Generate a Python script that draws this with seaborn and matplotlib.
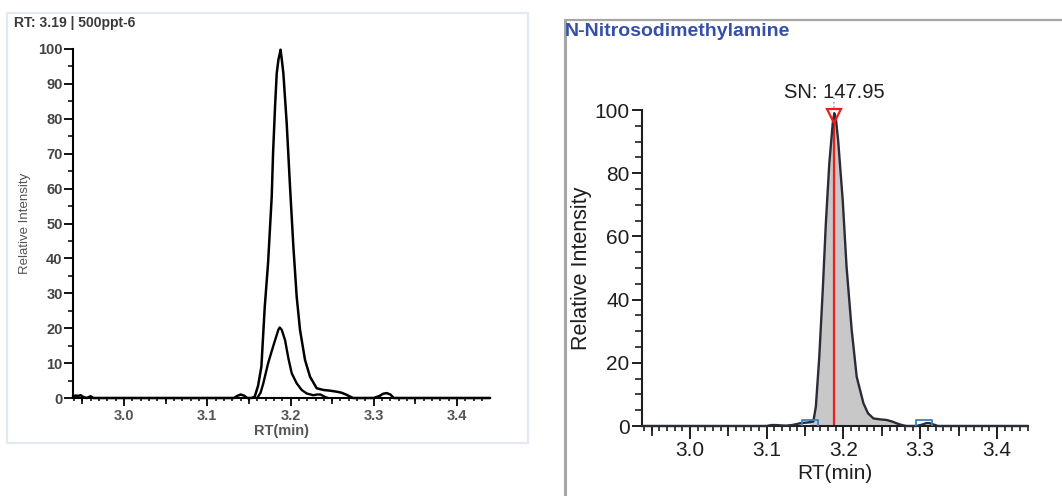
import numpy as np
import pandas as pd
import seaborn as sns
import matplotlib
matplotlib.use("Agg")
import matplotlib.pyplot as plt
from matplotlib.ticker import MultipleLocator, NullFormatter
from matplotlib.path import Path
from matplotlib.patches import Rectangle
from matplotlib.lines import Line2D

# ---------------- data ----------------
left_title = "RT: 3.19 | 500ppt-6"
right_title = "N-Nitrosodimethylamine"
sn_label = "SN: 147.95"
x_label = "RT(min)"
y_label = "Relative Intensity"

# left panel: outer (quantifier) trace
left_rt = [2.9387, 2.942, 2.945, 2.948, 2.951, 2.955, 2.960, 2.963, 2.967, 3.000,
           3.050, 3.100, 3.132, 3.136, 3.140, 3.144, 3.148, 3.153, 3.157, 3.161,
           3.165, 3.169, 3.173, 3.1774, 3.179, 3.1814, 3.1834, 3.1855, 3.1874, 3.188,
           3.1895, 3.1914, 3.1954, 3.1994, 3.2034, 3.2074, 3.2114, 3.2174, 3.2234, 3.2314,
           3.2394, 3.2475, 3.2555, 3.2615, 3.2675, 3.2715, 3.275, 3.300, 3.307, 3.311,
           3.3155, 3.320, 3.324, 3.350, 3.4396]
left_int = [0.5, 0.7, 0.6, 0.8, 0.3, 0.0, 0.5, 0.0, 0.0, 0.0,
            0.0, 0.0, 0.0, 0.6, 1.0, 0.7, 0.0, 0.0, 0.4, 3.5,
            9.0, 26.0, 38.6, 57.7, 70.0, 83.5, 93.0, 97.0, 99.0, 99.8,
            97.0, 93.0, 78.7, 60.5, 43.4, 29.0, 19.5, 10.9, 6.1, 2.8,
            2.3, 2.1, 1.8, 1.5, 0.9, 0.4, 0.0, 0.0, 0.6, 1.2,
            1.4, 1.0, 0.0, 0.0, 0.0]

# left panel: inner (qualifier) trace
qual_rt = [3.160, 3.164, 3.1673, 3.173, 3.179, 3.1853, 3.187, 3.1895, 3.1934, 3.1974,
           3.2014, 3.2074, 3.2134, 3.2194, 3.2274, 3.232, 3.236, 3.2414, 3.245]
qual_int = [0.0, 1.5, 4.2, 9.9, 14.7, 19.5, 20.2, 19.5, 16.6, 11.4,
            7.1, 4.2, 2.3, 1.3, 0.8, 1.0, 1.0, 0.3, 0.0]

# right panel: integrated trace
right_rt = [2.9375, 3.000, 3.100, 3.106, 3.112, 3.118, 3.125, 3.133, 3.139, 3.1433,
            3.148, 3.153, 3.1607, 3.164, 3.1685, 3.173, 3.177, 3.1815, 3.186, 3.188,
            3.190, 3.193, 3.199, 3.204, 3.2107, 3.2172, 3.226, 3.232, 3.239, 3.2475,
            3.2563, 3.2635, 3.2693, 3.276, 3.282, 3.295, 3.302, 3.308, 3.312, 3.317,
            3.323, 3.350, 3.4404]
right_int = [0.0, 0.0, 0.0, 0.3, 0.3, 0.2, 0.1, 0.3, 0.6, 0.85,
             1.0, 1.1, 1.4, 6.1, 22.0, 43.0, 64.0, 83.0, 95.8, 99.0,
             97.5, 90.5, 71.5, 50.4, 30.4, 15.6, 7.2, 4.0, 2.4, 2.1,
             1.9, 1.4, 0.85, 0.3, 0.0, 0.0, 0.4, 0.9, 0.9, 0.5,
             0.0, 0.0, 0.0]

apex_rt = 3.188
apex_int = 98.0
window_rt = [3.156, 3.305]
window_int = [0.9, 0.9]

x_ticks = [3.0, 3.1, 3.2, 3.3, 3.4]
x_mid_ticks = [2.95, 3.05, 3.15, 3.25, 3.35]
left_yticks = [0, 10, 20, 30, 40, 50, 60, 70, 80, 90, 100]
right_yticks = [0, 20, 40, 60, 80, 100]

# ---------------- style ----------------
sns.set_style("ticks")
plt.rcParams['font.family'] = ['Liberation Sans', 'DejaVu Sans']

W, H = 1062, 496
fig = plt.figure(figsize=(W / 100, H / 100), dpi=100)
fig.patch.set_facecolor("white")


def axes_px(x0, y_top, x1, y_bot):
    return fig.add_axes([x0 / W, 1 - y_bot / H, (x1 - x0) / W, (y_bot - y_top) / H])


# panel frames
fig.add_artist(Rectangle((7 / W, 1 - 443 / H), (528 - 7) / W, (443 - 13) / H,
                         transform=fig.transFigure, fill=False,
                         edgecolor="#e3e9f3", lw=1.6))
fig.add_artist(Line2D([565 / W, 565 / W], [0, 1 - 20 / H], transform=fig.transFigure,
                      color="#a6a6a6", lw=2.2))
fig.add_artist(Line2D([565 / W, 1.0], [1 - 20 / H, 1 - 20 / H], transform=fig.transFigure,
                      color="#a6a6a6", lw=1.6))

# ---------------- left panel ----------------
axL = axes_px(73, 49, 490, 398)
dfL = pd.DataFrame({"rt": left_rt, "int": left_int})
dfQ = pd.DataFrame({"rt": qual_rt, "int": qual_int})
sns.lineplot(data=dfL, x="rt", y="int", ax=axL, color="black", lw=1.8,
             sort=False, estimator=None)
sns.lineplot(data=dfQ, x="rt", y="int", ax=axL, color="black", lw=1.7,
             sort=False, estimator=None)
for l in axL.lines:
    l.set_clip_on(False)
axL.set_xlim(2.9387, 3.4396)
axL.set_ylim(0, 100)
for s in ["top", "right"]:
    axL.spines[s].set_visible(False)
for s in ["left", "bottom"]:
    axL.spines[s].set_linewidth(1.5)
    axL.spines[s].set_color("black")
axL.set_xticks(x_ticks)
axL.set_xticklabels([f"{v:.1f}" for v in x_ticks])
axL.xaxis.set_minor_locator(MultipleLocator(0.01))
axL.set_yticks(left_yticks)
axL.yaxis.set_minor_locator(MultipleLocator(5))
axL.tick_params(axis="x", which="major", length=6, width=1.3, pad=2,
                labelsize=10.5, labelcolor="#555555", color="black")
axL.tick_params(axis="x", which="minor", length=2.5, width=1.1, color="black")
axL.tick_params(axis="y", which="major", length=6.5, width=1.3, pad=1,
                labelsize=10.5, labelcolor="#444444", color="black")
axL.tick_params(axis="y", which="minor", length=3.5, width=1.1, color="black")
for t in axL.get_xticklabels() + axL.get_yticklabels():
    t.set_fontweight("bold")
secL = axL.secondary_xaxis("bottom")
secL.set_xticks(x_mid_ticks)
secL.xaxis.set_major_formatter(NullFormatter())
secL.tick_params(axis="x", which="major", length=4.5, width=1.2, color="black")
secL.spines["bottom"].set_visible(False)
axL.set_xlabel(x_label, fontsize=10.5, color="#555555", fontweight="bold", labelpad=1)
axL.set_ylabel(y_label, fontsize=9.5, color="#555555", labelpad=5)
fig.text(14 / W, 1 - 23 / H, left_title, fontsize=10, color="#3a3a3a",
         fontweight="bold", va="center", ha="left")

# ---------------- right panel ----------------
axR = axes_px(642, 110, 1028, 426)
dfR = pd.DataFrame({"rt": right_rt, "int": right_int})
rt_arr = np.array(right_rt)
axR.fill_between(right_rt, right_int, 0,
                 where=(rt_arr >= window_rt[0]) & (rt_arr <= window_rt[1]),
                 color="#c8c8c8", lw=0, zorder=1, interpolate=True)
axR.vlines(apex_rt, 0, apex_int, color="#ee1c1c", lw=1.6, zorder=2)
sns.lineplot(data=dfR, x="rt", y="int", ax=axR, color="#2a2c38", lw=1.7,
             sort=False, estimator=None, zorder=3)
bracket = Path([(-1, -0.45), (-1, 0.45), (1, 0.45), (1, -0.45)],
               [Path.MOVETO, Path.LINETO, Path.LINETO, Path.LINETO])
axR.plot(window_rt, window_int, ls="none", marker=bracket, ms=11,
         mfc="none", mec="#3c7fc2", mew=1.3, zorder=4, clip_on=False)
axR.plot([apex_rt], [apex_int], ls="none", marker="v", ms=10, mfc="none",
         mec="#ee1c1c", mew=1.6, zorder=5, clip_on=False)
axR.plot([apex_rt, apex_rt], [100.5, 104], ls=":", color="#7fb2e5", lw=1.2,
         clip_on=False, zorder=5)
axR.text(apex_rt, 105.4, sn_label, fontsize=14.5, color="#1e1e1e",
         ha="center", va="center")
for l in axR.lines:
    l.set_clip_on(False)
axR.set_xlim(2.9375, 3.4404)
axR.set_ylim(0, 100)
for s in ["top", "right"]:
    axR.spines[s].set_visible(False)
for s in ["left", "bottom"]:
    axR.spines[s].set_linewidth(1.5)
    axR.spines[s].set_color("#1e1e1e")
axR.set_xticks(x_ticks)
axR.set_xticklabels([f"{v:.1f}" for v in x_ticks])
axR.xaxis.set_minor_locator(MultipleLocator(0.01))
axR.set_yticks(right_yticks)
axR.yaxis.set_minor_locator(MultipleLocator(5))
axR.tick_params(axis="x", which="major", length=9, width=1.4, pad=2,
                labelsize=15, labelcolor="#1e1e1e", color="#1e1e1e")
axR.tick_params(axis="x", which="minor", length=3.5, width=1.2, color="#1e1e1e")
axR.tick_params(axis="y", which="major", length=7, width=1.4, pad=2,
                labelsize=15, labelcolor="#1e1e1e", color="#1e1e1e")
axR.tick_params(axis="y", which="minor", length=5, width=1.2, color="#1e1e1e")
secR = axR.secondary_xaxis("bottom")
secR.set_xticks(x_mid_ticks)
secR.xaxis.set_major_formatter(NullFormatter())
secR.tick_params(axis="x", which="major", length=7, width=1.3, color="#1e1e1e")
secR.spines["bottom"].set_visible(False)
axR.set_xlabel(x_label, fontsize=15, color="#1e1e1e", labelpad=3)
axR.set_ylabel(y_label, fontsize=15.5, color="#1e1e1e", labelpad=2)
fig.text(565 / W, 1 - 31 / H, right_title, fontsize=14, color="#3450a8",
         fontweight="bold", va="center", ha="left")

fig.savefig("out.png", dpi=100, facecolor="white")
